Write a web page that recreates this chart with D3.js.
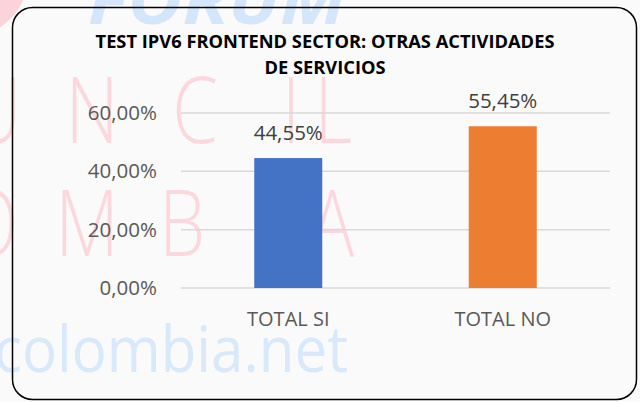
<!DOCTYPE html>
<html lang="es">
<head>
<meta charset="utf-8">
<title>Test IPv6 frontend</title>
<script src="https://cdn.jsdelivr.net/npm/d3@7"></script>
<style>
  body { margin: 0; background: #fafafa; }
</style>
</head>
<body>
<script>
var width = 640;
var height = 402;

// data
var categories = ["TOTAL SI", "TOTAL NO"];
var values = [44.55, 55.45];
var yTicks = [0, 20, 40, 60];
var colors = ["#4472C4", "#ED7D31"];
var titleLines = ["TEST IPV6 FRONTEND SECTOR: OTRAS ACTIVIDADES", "DE SERVICIOS"];

var svg = d3.select("body").append("svg")
    .attr("width", width)
    .attr("height", height);

svg.append("rect")
    .attr("width", width)
    .attr("height", height)
    .attr("fill", "#fafafa");

// faded watermark behind the chart (decoration only)
var wm = svg.append("g").attr("font-family", "'Open Sans', sans-serif");
wm.append("circle")
    .attr("cx", -40).attr("cy", -30).attr("r", 70)
    .attr("fill", "#fbd3d9");
wm.append("text")
    .attr("x", 88).attr("y", 24)
    .attr("font-size", 66).attr("font-weight", "bold").attr("font-style", "italic")
    .attr("fill", "#d3e6fb")
    .attr("textLength", 258).attr("lengthAdjust", "spacingAndGlyphs")
    .text("FORUM");

var wmRows = [
  { letters: "UNCIL", centers: [-5, 92, 195, 291, 333], base: 143 },
  { letters: "OMBIA", centers: [-10, 87, 182, 270, 332], base: 256 }
];
wmRows.forEach(function(row) {
  wm.append("g")
    .selectAll("text")
    .data(row.letters.split(""))
    .enter()
    .append("text")
    .attr("transform", function(d, i) { return "translate(" + row.centers[i] + "," + row.base + ") scale(0.8,1)"; })
    .attr("text-anchor", "middle")
    .attr("font-size", 92)
    .attr("font-weight", 300)
    .attr("fill", "#fcd8dd")
    .text(function(d) { return d; });
});

wm.append("text")
    .attr("x", -6).attr("y", 372)
    .attr("font-size", 64)
    .attr("fill", "#d8e9fb")
    .attr("textLength", 354).attr("lengthAdjust", "spacingAndGlyphs")
    .text("colombia.net");

// chart frame
svg.append("rect")
    .attr("x", 12.5).attr("y", 7.5)
    .attr("width", 624).attr("height", 392)
    .attr("rx", 20)
    .attr("fill", "none")
    .attr("stroke", "#000")
    .attr("stroke-width", 1.5);

var x = d3.scaleBand()
    .domain(categories)
    .range([181, 610]);

var y = d3.scaleLinear()
    .domain([0, 60])
    .range([288, 113]);

var pct = function(d) { return d3.format(".2f")(d).replace(".", ",") + "%"; };

// gridlines
svg.append("g")
    .selectAll("line")
    .data(yTicks)
    .enter()
    .append("line")
    .attr("x1", 181).attr("x2", 610)
    .attr("y1", function(d) { return y(d); })
    .attr("y2", function(d) { return y(d); })
    .attr("stroke", "#d9d9d9")
    .attr("stroke-width", 1.5);

var yAxis = svg.append("g")
    .attr("transform", "translate(181,0)")
    .call(d3.axisLeft(y).tickValues(yTicks).tickFormat(pct).tickSize(0).tickPadding(24));
yAxis.select(".domain").remove();
yAxis.selectAll("text")
    .attr("font-family", "'Open Sans', sans-serif")
    .attr("font-size", 20.5)
    .attr("fill", "#595959");

var xAxis = svg.append("g")
    .attr("transform", "translate(0,288)")
    .call(d3.axisBottom(x).tickSize(0).tickPadding(24));
xAxis.select(".domain").remove();
xAxis.selectAll("text")
    .attr("font-family", "'Open Sans', sans-serif")
    .attr("font-size", 20)
    .attr("fill", "#595959");

var barW = x.bandwidth() * 0.317;

svg.append("g")
    .selectAll("rect")
    .data(values)
    .enter()
    .append("rect")
    .attr("x", function(d, i) { return x(categories[i]) + (x.bandwidth() - barW) / 2; })
    .attr("y", function(d) { return y(d); })
    .attr("width", barW)
    .attr("height", function(d) { return y(0) - y(d); })
    .attr("fill", function(d, i) { return colors[i]; });

svg.append("g")
    .selectAll("text")
    .data(values)
    .enter()
    .append("text")
    .attr("x", function(d, i) { return x(categories[i]) + x.bandwidth() / 2; })
    .attr("y", function(d) { return y(d) - 18; })
    .attr("text-anchor", "middle")
    .attr("font-family", "'Open Sans', sans-serif")
    .attr("font-size", 20.5)
    .attr("fill", "#404040")
    .text(pct);

// title
svg.append("g")
    .selectAll("text")
    .data(titleLines)
    .enter()
    .append("text")
    .attr("x", 325)
    .attr("y", function(d, i) { return 48 + i * 26; })
    .attr("text-anchor", "middle")
    .attr("font-family", "'Open Sans', sans-serif")
    .attr("font-weight", "bold")
    .attr("font-size", 18.3)
    .attr("fill", "#000")
    .text(function(d) { return d; });
</script>
</body>
</html>
